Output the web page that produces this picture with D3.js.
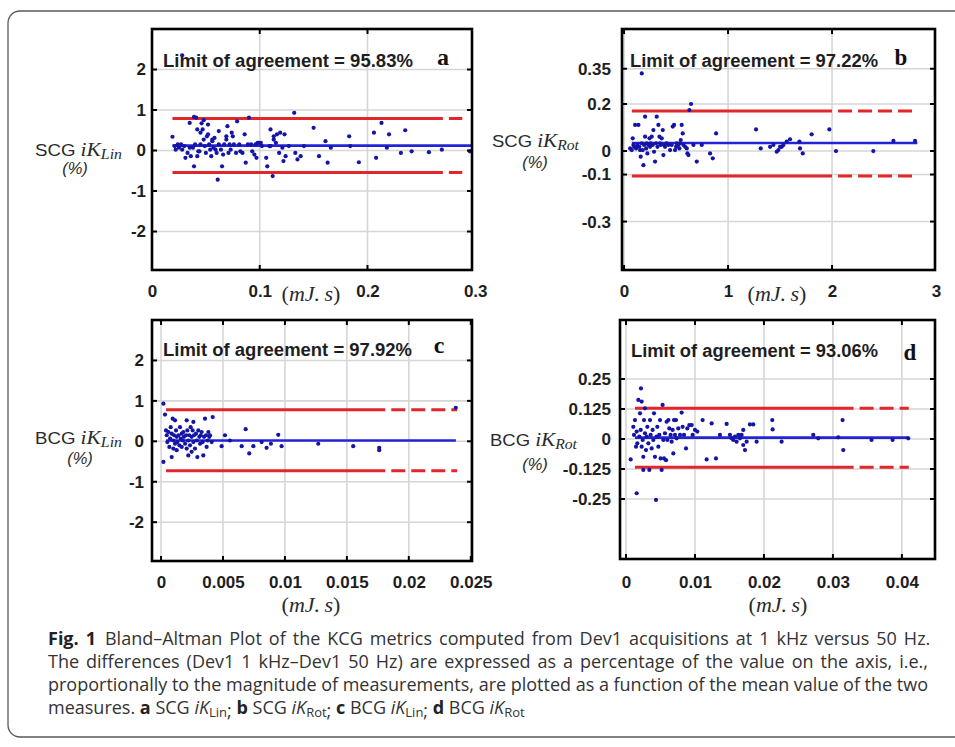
<!DOCTYPE html>
<html><head><meta charset="utf-8">
<script src="https://cdn.jsdelivr.net/npm/d3@7"></script>
<style>body{margin:0;background:#fff} svg{display:block}</style>
</head><body>
<svg id="fig" width="955" height="747"></svg>
<script>
// ---------------- DATA ----------------
const panelLetters = ['a', 'b', 'c', 'd'];
const agreementLabels = ['Limit of agreement = 95.83%', 'Limit of agreement = 97.22%', 'Limit of agreement = 97.92%', 'Limit of agreement = 93.06%'];
const signalNames = ['SCG', 'SCG', 'BCG', 'BCG'];
const metricSubs = ['Lin', 'Rot', 'Lin', 'Rot'];

const xTicksA = [0, 0.1, 0.2, 0.3];
const yTicksA = [2, 1, 0, -1, -2];
const xTicksB = [0, 1, 2, 3];
const yTicksB = [0.35, 0.2, 0, -0.1, -0.3];
const xTicksC = [0, 0.005, 0.01, 0.015, 0.02, 0.025];
const yTicksC = [2, 1, 0, -1, -2];
const xTicksD = [0, 0.01, 0.02, 0.03, 0.04];
const yTicksD = [0.25, 0.125, 0, -0.125, -0.25];

// mean difference and limits of agreement
const meanDiff = [0.12, 0.034, 0.02, 0.006];
const upperLoA = [0.79, 0.17, 0.78, 0.128];
const lowerLoA = [-0.54, -0.106, -0.73, -0.118];
const lineStart = [0.019, 0.075, 0.0004, 0.0013];
const solidEnd = [0.27, 2.0, 0.0181, 0.033];
const dashEnd = [0.288, 2.8, 0.0239, 0.041];
const meanEnd = [0.297, 2.82, 0.0238, 0.041];

// SCG iK_Lin  [mean, difference]
const scgLinPts = [[0.028,2.35],[0.019,0.34],[0.021,0.11],[0.022,0.02],[0.024,0.15],[0.025,0.07],[0.027,0.15],[0.028,0.02],[0.030,0.11],[0.031,-0.18],[0.033,-0.06],[0.035,0.68],[0.035,0.07],[0.036,-0.14],[0.038,0.07],[0.039,0.83],[0.039,-0.39],[0.040,0.15],[0.041,0.81],[0.042,-0.14],[0.042,0.52],[0.043,-0.02],[0.044,-0.02],[0.045,0.15],[0.045,0.44],[0.046,0.67],[0.047,0.52],[0.048,0.75],[0.048,0.27],[0.049,0.11],[0.050,-0.06],[0.051,0.35],[0.052,0.64],[0.052,0.40],[0.053,0.15],[0.054,0.02],[0.055,-0.14],[0.056,0.23],[0.056,0.27],[0.057,0.07],[0.058,0.31],[0.059,0.02],[0.060,-0.06],[0.061,-0.72],[0.062,0.48],[0.062,0.15],[0.064,0.02],[0.065,-0.39],[0.066,-0.10],[0.067,0.15],[0.069,0.35],[0.069,0.27],[0.070,0.60],[0.071,-0.06],[0.072,0.15],[0.073,0.02],[0.074,0.44],[0.075,0.35],[0.076,0.15],[0.078,-0.06],[0.079,0.72],[0.081,0.15],[0.082,-0.02],[0.084,-0.06],[0.086,0.40],[0.087,-0.30],[0.089,0.15],[0.090,0.81],[0.092,0.15],[0.093,-0.02],[0.095,-0.10],[0.096,0.15],[0.097,-0.18],[0.098,0.19],[0.099,0.19],[0.101,0.19],[0.102,0.11],[0.106,-0.18],[0.107,-0.39],[0.109,0.11],[0.110,0.52],[0.110,0.11],[0.112,-0.63],[0.113,0.35],[0.113,0.27],[0.115,0.19],[0.116,0.40],[0.118,-0.06],[0.119,0.44],[0.121,0.07],[0.122,-0.26],[0.123,0.40],[0.124,-0.14],[0.127,0.11],[0.132,0.93],[0.133,-0.06],[0.135,-0.22],[0.138,-0.14],[0.141,0.11],[0.150,0.56],[0.155,-0.14],[0.161,0.23],[0.163,-0.30],[0.166,0.07],[0.183,0.35],[0.184,0.11],[0.192,-0.29],[0.206,0.44],[0.208,-0.18],[0.213,0.68],[0.218,0.07],[0.220,0.40],[0.231,-0.06],[0.235,0.50],[0.241,-0.02],[0.257,-0.04],[0.269,0.02],[0.295,-0.02]];

// SCG iK_Rot
const scgRotPts = [[0.058,0.011],[0.074,0.004],[0.083,0.054],[0.090,0.026],[0.096,0.018],[0.106,0.111],[0.115,0.011],[0.122,0.018],[0.128,0.026],[0.138,0.111],[0.147,0.018],[0.154,0.004],[0.160,-0.024],[0.170,0.330],[0.170,0.033],[0.179,0.004],[0.186,-0.060],[0.192,0.026],[0.202,0.146],[0.202,0.061],[0.212,0.011],[0.218,0.033],[0.224,-0.010],[0.234,0.026],[0.244,0.054],[0.250,0.018],[0.256,0.033],[0.266,0.061],[0.276,0.026],[0.282,0.089],[0.288,-0.003],[0.298,-0.045],[0.308,0.033],[0.314,0.146],[0.321,0.018],[0.330,0.111],[0.340,0.061],[0.346,0.033],[0.353,0.026],[0.362,0.054],[0.372,0.089],[0.378,-0.017],[0.385,0.026],[0.394,0.018],[0.410,0.033],[0.426,0.026],[0.442,0.004],[0.458,0.026],[0.468,0.104],[0.481,0.111],[0.490,0.004],[0.500,0.018],[0.506,0.033],[0.522,0.026],[0.532,0.011],[0.538,0.033],[0.545,0.047],[0.554,0.111],[0.564,0.075],[0.571,0.026],[0.587,0.018],[0.603,0.011],[0.609,-0.010],[0.619,-0.017],[0.628,0.174],[0.644,0.200],[0.667,0.026],[0.699,-0.045],[0.747,0.026],[0.827,-0.010],[0.853,-0.031],[0.885,0.075],[1.269,0.092],[1.314,0.011],[1.404,0.018],[1.436,0.026],[1.468,-0.003],[1.484,0.004],[1.500,0.018],[1.516,0.018],[1.532,0.026],[1.564,0.040],[1.596,0.050],[1.686,0.040],[1.692,0.011],[1.718,-0.010],[1.804,0.071],[1.974,0.092],[2.038,0.000],[2.397,0.000],[2.590,0.043],[2.798,0.043]];

// BCG iK_Lin
const bcgLinPts = [[0.00019,0.93],[0.00032,0.66],[0.00019,-0.51],[0.00040,0.27],[0.00046,0.15],[0.00051,-0.02],[0.00059,0.23],[0.00067,-0.14],[0.00073,0.07],[0.00078,0.35],[0.00086,-0.39],[0.00086,0.19],[0.00094,0.56],[0.00099,0.02],[0.00099,-0.18],[0.00105,0.15],[0.00113,0.52],[0.00113,-0.06],[0.00121,0.27],[0.00126,0.11],[0.00126,-0.22],[0.00132,-0.02],[0.00140,0.15],[0.00148,-0.10],[0.00153,0.35],[0.00159,0.07],[0.00167,0.19],[0.00167,-0.14],[0.00175,0.02],[0.00180,0.23],[0.00185,0.11],[0.00194,-0.06],[0.00202,0.15],[0.00207,0.52],[0.00207,-0.18],[0.00212,0.27],[0.00220,0.02],[0.00220,-0.35],[0.00228,0.15],[0.00234,-0.10],[0.00239,0.35],[0.00247,0.11],[0.00247,-0.26],[0.00255,0.27],[0.00261,0.48],[0.00261,-0.02],[0.00266,0.15],[0.00274,-0.18],[0.00282,0.19],[0.00288,0.02],[0.00293,-0.39],[0.00301,0.27],[0.00309,0.11],[0.00315,-0.06],[0.00320,0.15],[0.00328,0.23],[0.00336,-0.02],[0.00341,-0.35],[0.00347,0.11],[0.00355,0.56],[0.00363,0.15],[0.00368,-0.14],[0.00376,0.02],[0.00382,0.23],[0.00390,0.11],[0.00395,0.15],[0.00409,-0.02],[0.00417,0.60],[0.00489,-0.12],[0.00516,0.15],[0.00556,0.02],[0.00651,-0.12],[0.00683,0.30],[0.00712,-0.30],[0.00745,-0.12],[0.00812,-0.02],[0.00852,-0.16],[0.00887,-0.06],[0.00946,0.16],[0.00973,-0.12],[0.01269,-0.06],[0.01551,-0.12],[0.01761,-0.16],[0.01761,-0.22],[0.02379,0.83]];

// BCG iK_Rot
const bcgRotPts = [[0.00068,-0.085],[0.00106,0.051],[0.00116,0.017],[0.00130,0.079],[0.00145,-0.032],[0.00155,0.031],[0.00155,-0.226],[0.00164,-0.018],[0.00179,0.163],[0.00193,0.010],[0.00203,0.107],[0.00213,0.038],[0.00217,0.211],[0.00227,0.156],[0.00227,-0.032],[0.00242,-0.004],[0.00251,-0.074],[0.00251,-0.129],[0.00261,0.079],[0.00275,0.024],[0.00275,0.128],[0.00290,-0.046],[0.00300,0.010],[0.00309,0.051],[0.00324,-0.018],[0.00338,-0.129],[0.00348,0.079],[0.00357,0.017],[0.00372,-0.039],[0.00386,0.038],[0.00396,-0.004],[0.00406,0.107],[0.00420,-0.074],[0.00435,-0.254],[0.00444,0.010],[0.00454,0.051],[0.00469,-0.032],[0.00483,0.017],[0.00493,0.079],[0.00502,-0.081],[0.00517,-0.129],[0.00531,0.142],[0.00541,-0.004],[0.00551,-0.081],[0.00565,0.024],[0.00580,-0.088],[0.00589,0.072],[0.00599,-0.004],[0.00614,0.079],[0.00628,0.044],[0.00647,0.017],[0.00662,-0.011],[0.00676,0.038],[0.00686,-0.060],[0.00696,0.079],[0.00710,0.017],[0.00725,0.079],[0.00734,0.003],[0.00758,0.044],[0.00783,0.017],[0.00807,0.110],[0.00821,0.051],[0.00841,0.017],[0.00870,-0.039],[0.00889,0.044],[0.00918,0.058],[0.00952,0.058],[0.00966,0.017],[0.01000,0.038],[0.01034,0.031],[0.01111,0.079],[0.01169,-0.085],[0.01242,0.065],[0.01304,-0.081],[0.01362,0.017],[0.01459,0.063],[0.01507,0.017],[0.01531,0.003],[0.01556,-0.004],[0.01580,0.010],[0.01604,-0.011],[0.01628,0.017],[0.01652,0.003],[0.01676,0.017],[0.01700,0.038],[0.01700,-0.025],[0.01725,-0.046],[0.01749,-0.011],[0.01797,0.061],[0.01845,0.061],[0.01894,-0.011],[0.02121,0.079],[0.02126,0.040],[0.02256,-0.011],[0.02715,0.017],[0.02787,0.003],[0.03077,0.007],[0.03140,0.079],[0.03150,-0.046],[0.03560,-0.004],[0.03865,-0.004],[0.04092,0.003]];

const captionLines = [
  'Bland\u2013Altman Plot of the KCG metrics computed from Dev1 acquisitions at 1 kHz versus 50 Hz.',
  'The differences (Dev1 1 kHz\u2013Dev1 50 Hz) are expressed as a percentage of the value on the axis, i.e.,',
  'proportionally to the magnitude of measurements, are plotted as a function of the mean value of the two'
];

// ---------------- LAYOUT ----------------
const layout = [
  {box:[152,29,472,270], xDom:[0,0.297], yDom:[-2.95,3.0], yGap:6, xPad:15,
   ylab:[35,156], pct:[75,174], xlab:[311,301], loa:[163,67,250], letter:[443,65,24], xT:xTicksA, yT:yTicksA, pts:scgLinPts},
  {box:[622,29,935,270], xDom:[-0.02,2.99], yDom:[-0.506,0.519], yGap:11, xPad:15,
   ylab:[492,147], pct:[535,168], xlab:[777,301], loa:[630,67,248], letter:[901,65,23], xT:xTicksB, yT:yTicksB, pts:scgRotPts},
  {box:[152,320,472,561], xDom:[-0.00073,0.0251], yDom:[-2.96,3.0], yGap:8, xPad:15,
   ylab:[35,444], pct:[80,464], xlab:[311,612], loa:[163,356,249], letter:[439,353,24], xT:xTicksC, yT:yTicksC, pts:bcgLinPts},
  {box:[620,320,935,559], xDom:[-0.00087,0.0448], yDom:[-0.5,0.496], yGap:9, xPad:17,
   ylab:[490,446], pct:[535,470], xlab:[778,612], loa:[631,357,247], letter:[910,360,23], xT:xTicksD, yT:yTicksD, pts:bcgRotPts}
];

const svg = d3.select('#fig');
const sans = "'Liberation Sans', Arial, sans-serif";
const serif = "'Liberation Serif', 'Times New Roman', serif";
const RED = '#e3262a', BLUE = '#2323d8', DOT = '#1414a6', GRID = '#d6d6d6', TXT = '#1e1e1e';

// outer frame
svg.append('rect').attr('x', 8).attr('y', 11).attr('width', 980).attr('height', 726)
  .attr('rx', 12).attr('fill', 'none').attr('stroke', '#5a5a5a').attr('stroke-width', 1.3);

layout.forEach((L, i) => {
  const [x0, y0, x1, y1] = L.box;
  const x = d3.scaleLinear().domain(L.xDom).range([x0, x1]);
  const y = d3.scaleLinear().domain(L.yDom).range([y1, y0]);
  const g = svg.append('g');
  const inX = L.xT.filter(v => x(v) > x0 + 0.5 && x(v) < x1 - 0.5);
  const inY = L.yT.filter(v => y(v) > y0 + 0.5 && y(v) < y1 - 0.5);

  // grid
  const grid = g.append('g');
  grid.selectAll('line.gx').data(L.xT.filter(v => x(v) >= x0 && x(v) <= x1)).join('line')
    .attr('x1', d => x(d)).attr('x2', d => x(d)).attr('y1', y0).attr('y2', y1)
    .attr('stroke', GRID).attr('stroke-width', 1.6);
  grid.selectAll('line.gy').data(inY).join('line')
    .attr('x1', x0).attr('x2', x1).attr('y1', d => y(d)).attr('y2', d => y(d))
    .attr('stroke', GRID).attr('stroke-width', 1.6);

  // limit-of-agreement lines
  [upperLoA[i], lowerLoA[i]].forEach(v => {
    g.append('line').attr('x1', x(lineStart[i])).attr('x2', x(solidEnd[i]))
      .attr('y1', y(v)).attr('y2', y(v)).attr('stroke', RED).attr('stroke-width', 3);
    g.append('line').attr('x1', x(solidEnd[i])).attr('x2', x(dashEnd[i]))
      .attr('y1', y(v)).attr('y2', y(v)).attr('stroke', RED).attr('stroke-width', 3)
      .attr('stroke-dasharray', '0 6 14 0');
  });
  // mean line
  g.append('line').attr('x1', x(lineStart[i])).attr('x2', x(meanEnd[i]))
    .attr('y1', y(meanDiff[i])).attr('y2', y(meanDiff[i]))
    .attr('stroke', BLUE).attr('stroke-width', 2.6);

  // points
  g.append('g').selectAll('circle').data(L.pts).join('circle')
    .attr('cx', d => x(d[0])).attr('cy', d => y(d[1])).attr('r', 2.1).attr('fill', DOT);

  // box
  g.append('rect').attr('x', x0).attr('y', y0).attr('width', x1 - x0).attr('height', y1 - y0)
    .attr('fill', 'none').attr('stroke', '#000').attr('stroke-width', 2.6);

  // inward tick marks on all sides
  const tk = g.append('g').attr('stroke', '#000').attr('stroke-width', 2);
  inX.forEach(v => {
    tk.append('line').attr('x1', x(v)).attr('x2', x(v)).attr('y1', y0).attr('y2', y0 + 5);
    tk.append('line').attr('x1', x(v)).attr('x2', x(v)).attr('y1', y1).attr('y2', y1 - 5);
  });
  inY.forEach(v => {
    tk.append('line').attr('y1', y(v)).attr('y2', y(v)).attr('x1', x0).attr('x2', x0 + 5);
    tk.append('line').attr('y1', y(v)).attr('y2', y(v)).attr('x1', x1).attr('x2', x1 - 5);
  });

  // axis labels via d3 axes
  const ax = g.append('g').attr('transform', `translate(0,${y1})`)
    .call(d3.axisBottom(x).tickValues(L.xT).tickSize(0).tickPadding(L.xPad).tickFormat(d => String(d)));
  const ay = g.append('g').attr('transform', `translate(${x0},0)`)
    .call(d3.axisLeft(y).tickValues(L.yT).tickSize(0).tickPadding(L.yGap).tickFormat(d => String(d)));
  [ax, ay].forEach(a => {
    a.select('.domain').remove();
    a.selectAll('text').attr('font-family', sans).attr('font-weight', 'bold')
      .attr('font-size', 17).attr('fill', TXT);
  });

  // limit of agreement annotation
  g.append('text').attr('x', L.loa[0]).attr('y', L.loa[1]).attr('font-family', sans)
    .attr('font-weight', 'bold').attr('font-size', 17.5).attr('fill', TXT)
    .attr('textLength', L.loa[2]).attr('lengthAdjust', 'spacingAndGlyphs')
    .text(agreementLabels[i]);
  g.append('text').attr('x', L.letter[0]).attr('y', L.letter[1]).attr('text-anchor', 'middle')
    .attr('font-family', serif).attr('font-weight', 'bold').attr('font-size', L.letter[2])
    .attr('fill', '#111').text(panelLetters[i]);

  // y label
  const yl = g.append('text').attr('x', L.ylab[0]).attr('y', L.ylab[1]).attr('fill', '#2a2a2a')
    .attr('textLength', 87).attr('lengthAdjust', 'spacingAndGlyphs');
  yl.append('tspan').attr('font-family', sans).attr('font-size', 16.5).text(signalNames[i] + ' ');
  yl.append('tspan').attr('font-family', serif).attr('font-style', 'italic').attr('font-size', 19).text('iK');
  yl.append('tspan').attr('font-family', serif).attr('font-style', 'italic').attr('font-size', 14)
    .attr('dy', 3).text(metricSubs[i]);
  g.append('text').attr('x', L.pct[0]).attr('y', L.pct[1]).attr('text-anchor', 'middle')
    .attr('font-family', sans).attr('font-style', 'italic').attr('font-size', 16.5)
    .attr('fill', '#2a2a2a').text('(%)');

  // x unit label
  const xl = g.append('text').attr('x', L.xlab[0]).attr('y', L.xlab[1]).attr('text-anchor', 'middle')
    .attr('font-family', serif).attr('font-size', 22).attr('fill', '#2a2a2a');
  xl.append('tspan').text('(');
  xl.append('tspan').attr('font-style', 'italic').text('mJ.\u2009s');
  xl.append('tspan').text(')');
});

// caption: justified block (lines 1-3 end at the same right margin)
const capFont = "'Open Sans', 'Noto Sans', sans-serif";
const capY = [645, 668, 691, 714];
const capSize = 18;
const capLeft = 48, capRight = 928;
captionLines.forEach((s, k) => {
  const t = svg.append('text').attr('x', capLeft).attr('y', capY[k]).attr('font-family', capFont)
    .attr('font-size', capSize).attr('fill', '#333');
  if (k === 0) {
    t.append('tspan').attr('font-weight', 'bold').attr('fill', '#222').text('Fig. 1');
    t.append('tspan').text('\u2002' + s);
  } else t.text(s);
  const w = t.node().getComputedTextLength();
  const spaces = (s.match(/ /g) || []).length;
  t.style('word-spacing', ((capRight - capLeft - w) / spaces) + 'px');
});
{
  const t = svg.append('text').attr('x', capLeft).attr('y', capY[3]).attr('font-family', capFont)
    .attr('font-size', capSize).attr('fill', '#333');
  t.append('tspan').text('measures. ');
  panelLetters.forEach((l, i) => {
    t.append('tspan').attr('font-weight', 'bold').attr('fill', '#222').attr('dy', i === 0 ? 0 : -3).text(l);
    t.append('tspan').text(' ' + signalNames[i] + ' ');
    t.append('tspan').attr('font-style', 'italic').text('iK');
    t.append('tspan').attr('font-size', 13).attr('dy', 3).text(metricSubs[i]);
    if (i < 3) t.append('tspan').text('; ');
  });
}
</script>
</body></html>
